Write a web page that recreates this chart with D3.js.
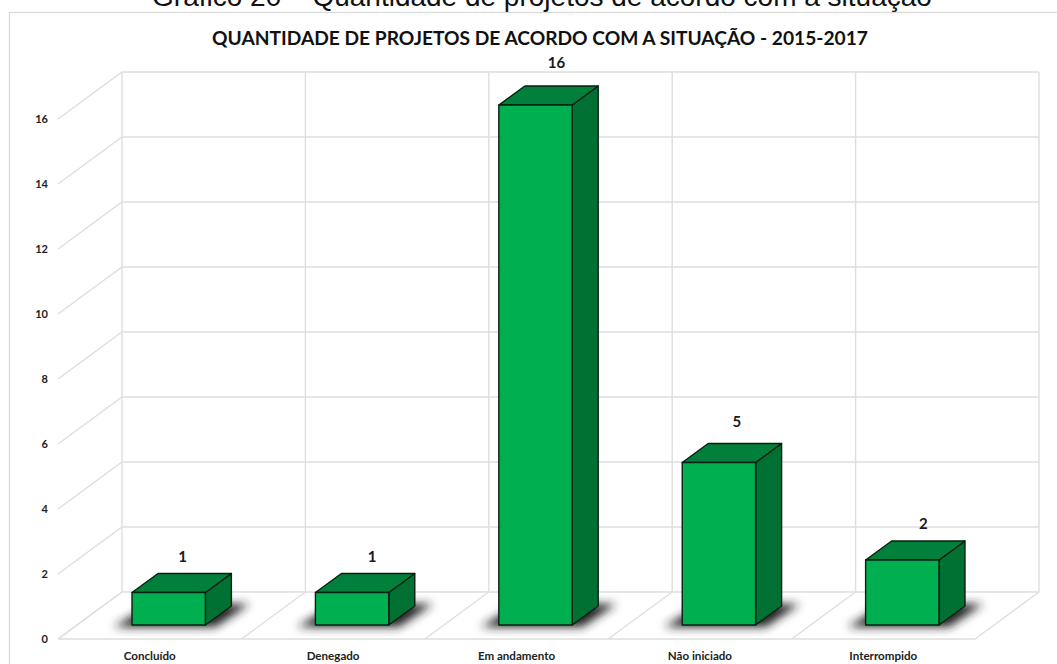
<!DOCTYPE html>
<html>
<head>
<meta charset="utf-8">
<script src="https://cdn.jsdelivr.net/npm/d3@7"></script>
<style>
    html, body { margin: 0; padding: 0; background: #fff; overflow: hidden; }
    svg { display: block; }
</style>
</head>
<body>
<div id="chart"></div>
<script>
const categories = ["Concluído", "Denegado", "Em andamento", "Não iniciado", "Interrompido"];
const values = [1, 1, 16, 5, 2];
const yTicks = [0, 2, 4, 6, 8, 10, 12, 14, 16];

const pageTitle = "Gráfico 20 – Quantidade de projetos de acordo com a situação";
const chartTitle = "QUANTIDADE DE PROJETOS DE ACORDO COM A SITUAÇÃO - 2015-2017";

const width = 1057, height = 664;
const LABEL_FONT = "Lato, 'Noto Sans', sans-serif";

const svg = d3.select("#chart").append("svg")
    .attr("width", width).attr("height", height);

// Blur used for the bar shadows on the floor
const defs = svg.append("defs");
defs.append("filter").attr("id", "shadowBlur")
    .attr("x", "-30%").attr("y", "-60%").attr("width", "160%").attr("height", "220%")
    .append("feGaussianBlur").attr("stdDeviation", 5);

// Caption of the document, cut by the top of the picture
svg.append("text")
    .attr("x", 542).attr("y", 6)
    .attr("text-anchor", "middle")
    .attr("font-family", "'Liberation Sans', Arial, sans-serif")
    .attr("font-size", 28)
    .attr("fill", "#111")
    .text(pageTitle);

// Chart box, its right side falls outside the picture
svg.append("rect")
    .attr("x", 9.5).attr("y", 12.5)
    .attr("width", 1080).attr("height", 700)
    .attr("fill", "#fff")
    .attr("stroke", "#d9d9d9").attr("stroke-width", 1.2);

svg.append("text")
    .attr("x", 540).attr("y", 45)
    .attr("text-anchor", "middle")
    .attr("font-family", LABEL_FONT)
    .attr("font-weight", 700)
    .attr("font-size", 19.2)
    .attr("fill", "#111")
    .text(chartTitle);

// Front edge of the floor is the axis, the back wall is shifted by the depth
const wallDx = 64, wallDy = -47;
const barDx = 26, barDy = -19;
const barFloorDx = 19, barFloorDy = -14; // front of the bars sits inside the floor

const x = d3.scaleBand()
    .domain(categories)
    .range([58, 975])
    .paddingInner(0.6)
    .paddingOuter(0.3);

const y = d3.scaleLinear().domain([0, 16]).range([639, 119]);

const gridColor = "#dedede";
const grid = svg.append("g").attr("fill", "none")
    .attr("stroke", gridColor).attr("stroke-width", 1.4);

// Floor divisions and wall verticals
const floorEdges = categories.map(c => x(c) - x.step() * 0.3)
    .concat([x(categories[categories.length - 1]) + x.bandwidth() + x.step() * 0.3]);

floorEdges.forEach(fx => {
    grid.append("path").attr("d", d3.line()([
        [fx, y(0)],
        [fx + wallDx, y(0) + wallDy],
        [fx + wallDx, y(16) + wallDy]
    ]));
});

// Horizontal lines: side wall tick then along the back wall
yTicks.forEach(t => {
    grid.append("path").attr("d", d3.line()([
        [floorEdges[0], y(t)],
        [floorEdges[0] + wallDx, y(t) + wallDy],
        [floorEdges[floorEdges.length - 1] + wallDx, y(t) + wallDy]
    ]));
});

// Front edge of the floor
grid.append("line")
    .attr("x1", floorEdges[0]).attr("x2", floorEdges[floorEdges.length - 1])
    .attr("y1", y(0)).attr("y2", y(0));

// Y axis labels
svg.append("g").selectAll("text").data(yTicks).enter()
    .append("text")
    .attr("x", 48)
    .attr("y", d => y(d) + 4)
    .attr("text-anchor", "end")
    .attr("font-family", LABEL_FONT)
    .attr("font-weight", 700)
    .attr("font-size", 11)
    .attr("fill", "#222")
    .text(d => d);

// Category labels
svg.append("g").selectAll("text").data(categories).enter()
    .append("text")
    .attr("x", d => x(d) + x.bandwidth() / 2)
    .attr("y", 660)
    .attr("text-anchor", "middle")
    .attr("font-family", LABEL_FONT)
    .attr("font-weight", 700)
    .attr("font-size", 11.6)
    .attr("fill", "#222")
    .text(d => d);

const bars = categories.map((c, i) => ({ name: c, value: values[i] }));
const barLeft = d => x(d.name) + barFloorDx;
const barRight = d => barLeft(d) + x.bandwidth();
const barBase = y(0) + barFloorDy;
const barTop = d => y(d.value) + barFloorDy;

const polyPath = pts => d3.line()(pts) + "Z";

// Shadow on the floor
svg.append("g").attr("filter", "url(#shadowBlur)")
    .selectAll("path").data(bars).enter()
    .append("path")
    .attr("d", d => polyPath([
        [barLeft(d) - 18, barBase + 2],
        [barRight(d) + 10, barBase + 2],
        [barRight(d) + 44, barBase - 21],
        [barLeft(d) + 20, barBase - 21]
    ]))
    .attr("fill", "#222");

const barG = svg.append("g")
    .attr("stroke", "#0a1f12").attr("stroke-width", 1.4).attr("stroke-linejoin", "round");

// Right side
barG.selectAll(".side").data(bars).enter()
    .append("path").attr("class", "side")
    .attr("fill", "#007033")
    .attr("d", d => polyPath([
        [barRight(d), barBase],
        [barRight(d) + barDx, barBase + barDy],
        [barRight(d) + barDx, barTop(d) + barDy],
        [barRight(d), barTop(d)]
    ]));

// Top
barG.selectAll(".top").data(bars).enter()
    .append("path").attr("class", "top")
    .attr("fill", "#00803a")
    .attr("d", d => polyPath([
        [barLeft(d), barTop(d)],
        [barRight(d), barTop(d)],
        [barRight(d) + barDx, barTop(d) + barDy],
        [barLeft(d) + barDx, barTop(d) + barDy]
    ]));

// Front
barG.selectAll(".front").data(bars).enter()
    .append("rect").attr("class", "front")
    .attr("fill", "#00b050")
    .attr("x", barLeft)
    .attr("y", barTop)
    .attr("width", x.bandwidth())
    .attr("height", d => barBase - barTop(d));

// Value labels were placed by hand in the original, so each one has its own nudge
const labelNudgeX = [14, 20, 21, 18, 21];
const labelNudgeY = [-31, -31, -37, -36, -31];

svg.append("g").selectAll("text").data(bars).enter()
    .append("text")
    .attr("x", (d, i) => barLeft(d) + x.bandwidth() / 2 + labelNudgeX[i])
    .attr("y", (d, i) => barTop(d) + labelNudgeY[i])
    .attr("text-anchor", "middle")
    .attr("font-family", LABEL_FONT)
    .attr("font-weight", 700)
    .attr("font-size", 15)
    .attr("fill", "#1a1a1a")
    .text(d => d.value);
</script>
</body>
</html>
